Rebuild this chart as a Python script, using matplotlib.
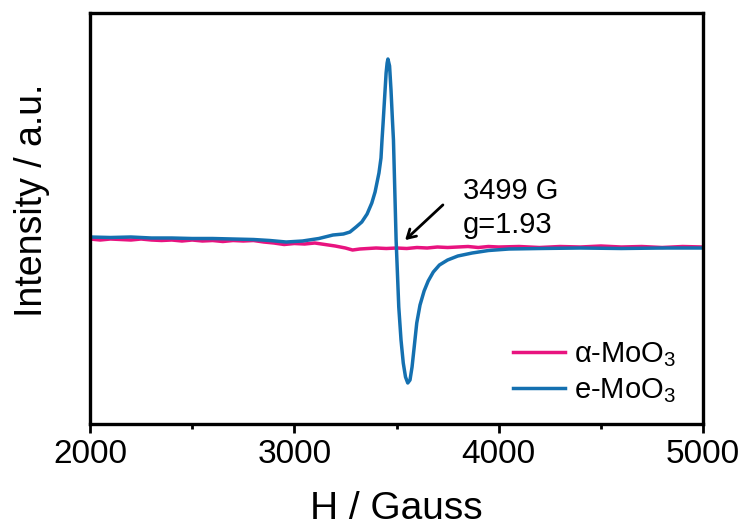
import matplotlib
matplotlib.use("Agg")
import matplotlib.pyplot as plt
from matplotlib.ticker import MultipleLocator

plt.rcParams['font.family'] = ['Liberation Sans', 'DejaVu Sans']
plt.rcParams['mathtext.default'] = 'regular'

# EPR spectra, field in Gauss, intensity in arbitrary units
h_alpha = [2000, 2050, 2100, 2150, 2200, 2250, 2300, 2350, 2400, 2450,
           2500, 2550, 2600, 2650, 2700, 2750, 2800, 2850, 2900, 2950,
           3000, 3050, 3100, 3150, 3200, 3250, 3285, 3320, 3360, 3400,
           3450, 3500, 3550, 3600, 3650, 3700, 3750, 3800, 3850, 3900,
           3950, 4000, 4100, 4200, 4300, 4400, 4500, 4600, 4700, 4800,
           4900, 5000]
i_alpha = [6, 5, 6, 5.5, 5, 6, 5, 4.5, 5, 4,
           5, 4, 4.5, 3.5, 4.5, 4, 4.5, 3, 2, 0.5,
           1.5, 1, 2, 0.5, -1, -3, -5, -4, -3.5, -3,
           -3.5, -3, -3.5, -2.5, -3, -2, -2.5, -2, -1.5, -2.5,
           -1.5, -2, -1.5, -2.5, -1.5, -2, -1, -2, -1.5, -2.5,
           -1.5, -2]

h_e = [2000, 2100, 2200, 2300, 2400, 2500, 2600, 2700, 2800, 2880,
       2960, 3040, 3120, 3189, 3240, 3272, 3302, 3330, 3356, 3379,
       3395, 3414, 3424, 3429, 3434, 3439, 3444, 3449, 3454, 3458,
       3466, 3473, 3480, 3485, 3498, 3511, 3522, 3533, 3544, 3555,
       3566, 3576, 3586, 3599, 3615, 3635, 3655, 3680, 3710, 3750,
       3800, 3870, 3950, 4050, 4200, 4400, 4600, 4800, 5000]
i_e = [8, 7.5, 8, 7, 7, 6.5, 6.5, 6, 5.5, 4.5,
       3, 4, 6.5, 10, 11, 13, 18, 23, 31, 42,
       53, 72, 87, 105, 121, 138, 155, 172, 182, 186,
       179, 155, 125, 105, 5, -62, -95, -118, -132, -138,
       -135, -122, -103, -78, -60, -46, -36, -27, -20, -15,
       -11, -8, -5.5, -4, -3.5, -3, -3.5, -3, -3]

fig = plt.figure(figsize=(7.49, 5.31), dpi=100)
ax = fig.add_axes([0.1202, 0.2015, 0.8184, 0.774])

ax.plot(h_alpha, i_alpha, color='#E8137F', lw=2.5, label=r'α-MoO$_{3}$')
ax.plot(h_e, i_e, color='#1470B0', lw=2.5, label=r'e-MoO$_{3}$')

ax.set_xlim(2000, 5000)
ax.set_ylim(-179, 232)
ax.xaxis.set_major_locator(MultipleLocator(1000))
ax.xaxis.set_minor_locator(MultipleLocator(500))
ax.tick_params(axis='x', which='major', direction='out', length=6.5, width=2,
               labelsize=24, pad=4, top=False)
ax.tick_params(axis='x', which='minor', direction='out', length=3.5, width=2,
               top=False)
ax.set_yticks([])
for s in ax.spines.values():
    s.set_linewidth(2.4)

ax.set_xlabel('H / Gauss', fontsize=28)
ax.set_ylabel('Intensity / a.u.', fontsize=27)
ax.xaxis.set_label_coords(0.5, -0.163)
ax.yaxis.set_label_coords(-0.066, 0.545)

# g-value marker
ax.annotate('', xy=(3532, 3), xytext=(3737, 42),
            arrowprops=dict(arrowstyle='->, head_length=0.6, head_width=0.35',
                            color='black', lw=2))
ax.text(3825, 68, '3499 G\ng=1.93', fontsize=21, ha='left', va='top',
        linespacing=1.25)

ax.legend(loc='upper left', bbox_to_anchor=(0.69, 0.205), frameon=False,
          fontsize=21, handlelength=1.8, handletextpad=0.3, borderpad=0,
          borderaxespad=0, labelspacing=0.25)

fig.savefig('out.png', dpi=100)
